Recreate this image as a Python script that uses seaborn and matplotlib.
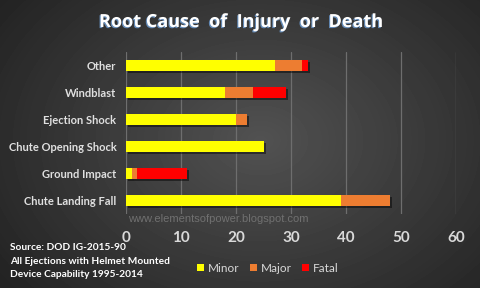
import numpy as np
import pandas as pd
import matplotlib
matplotlib.use("Agg")
import matplotlib.pyplot as plt
import matplotlib.patheffects as pe
from matplotlib.patches import Patch
import seaborn as sns

categories = ["Other", "Windblast", "Ejection Shock", "Chute Opening Shock",
              "Ground Impact", "Chute Landing Fall"]
minor = [27, 18, 20, 25, 1, 39]
major = [5, 5, 2, 0, 1, 9]
fatal = [1, 6, 0, 0, 9, 0]
x_ticks = [0, 10, 20, 30, 40, 50, 60]
series_names = ["Minor", "Major", "Fatal"]
colors = {"Minor": "#FFFF00", "Major": "#ED7D31", "Fatal": "#FF0000"}

df = pd.DataFrame({"cause": categories, "Minor": minor, "Major": major, "Fatal": fatal})
df["cum_major"] = df["Minor"] + df["Major"]
df["cum_fatal"] = df["cum_major"] + df["Fatal"]

sns.set_theme(style="dark")
plt.rcParams["font.family"] = ["Lato", "DejaVu Sans"]

fig = plt.figure(figsize=(4.8, 2.88), dpi=100)

# background radial gradient
bg = fig.add_axes([0, 0, 1, 1], zorder=-10)
yy, xx = np.mgrid[0:288, 0:480]
r = np.sqrt(((xx - 260) / 300.0) ** 2 + ((yy - 140) / 220.0) ** 2)
val = np.clip(0.32 - 0.17 * r, 0.14, 0.33)
bg.imshow(val, cmap="gray", vmin=0, vmax=1, aspect="auto", interpolation="bilinear")
bg.axis("off")

ax = fig.add_axes([126 / 480, (288 - 214) / 288, 330 / 480, 162 / 288])
ax.set_facecolor("none")

width = 0.41
sns.barplot(data=df, y="cause", x="cum_fatal", order=categories, color=colors["Fatal"],
            width=width, ax=ax, orient="h", saturation=1, zorder=3)
n_shadow = len(ax.patches)
sns.barplot(data=df, y="cause", x="cum_major", order=categories, color=colors["Major"],
            width=width, ax=ax, orient="h", saturation=1, zorder=3)
sns.barplot(data=df, y="cause", x="Minor", order=categories, color=colors["Minor"],
            width=width, ax=ax, orient="h", saturation=1, zorder=3)
for i, p in enumerate(ax.patches):
    p.set_linewidth(0)
    if i < n_shadow:
        p.set_path_effects([pe.SimplePatchShadow(offset=(1.5, -1.5), shadow_rgbFace="black", alpha=0.45),
                            pe.Normal()])

ax.set_xlim(0, 60)
ax.set_ylim(5.5, -0.5)
ax.set_xticks(x_ticks)
ax.set_xticklabels([str(t) for t in x_ticks])
ax.set_xlabel("")
ax.set_ylabel("")
ax.grid(axis="x", color="#6e6e6e", linewidth=0.9, zorder=0)
ax.grid(axis="y", visible=False)
for s in ax.spines.values():
    s.set_visible(False)
ax.tick_params(axis="x", length=0, pad=12, labelsize=11, labelcolor="#d9d9d9")
ax.tick_params(axis="y", length=0, pad=7, labelsize=8, labelcolor="#e0e0e0")
for lab in ax.get_xticklabels():
    lab.set_fontweight("bold")
for lab in ax.get_yticklabels():
    lab.set_fontweight("bold")

fig.text(0.5, 1 - 22 / 288, "Root Cause  of  Injury  or  Death", ha="center", va="center",
         fontsize=13, fontweight="bold", color="white", family=["Open Sans", "DejaVu Sans"],
         path_effects=[pe.withSimplePatchShadow(offset=(-0.8, -0.8), shadow_rgbFace="#6fa0d8", alpha=0.8)])

fig.text(128 / 480, 1 - 219 / 288, "www.elementsofpower.blogspot.com", ha="left", va="center",
         fontsize=8, color="#707070", family=["Liberation Sans", "DejaVu Sans"])

src = ["Source: DOD IG-2015-90", "All Ejections with Helmet Mounted", "Device Capability 1995-2014"]
for i, line in enumerate(src):
    fig.text(10 / 480, 1 - (248 + 13.3 * i) / 288, line, ha="left", va="center",
             fontsize=7.3, fontweight="bold", color="white")

handles = [Patch(facecolor=colors[n], edgecolor="none", label=n) for n in series_names]
leg = fig.legend(handles=handles, loc="center", bbox_to_anchor=(268 / 480, 1 - 268 / 288),
                 ncol=3, frameon=False, fontsize=8.5, handlelength=0.6, handleheight=0.6,
                 handletextpad=0.3, columnspacing=0.9)
for t in leg.get_texts():
    t.set_color("#d9d9d9")

fig.savefig("out.png", dpi=100)
